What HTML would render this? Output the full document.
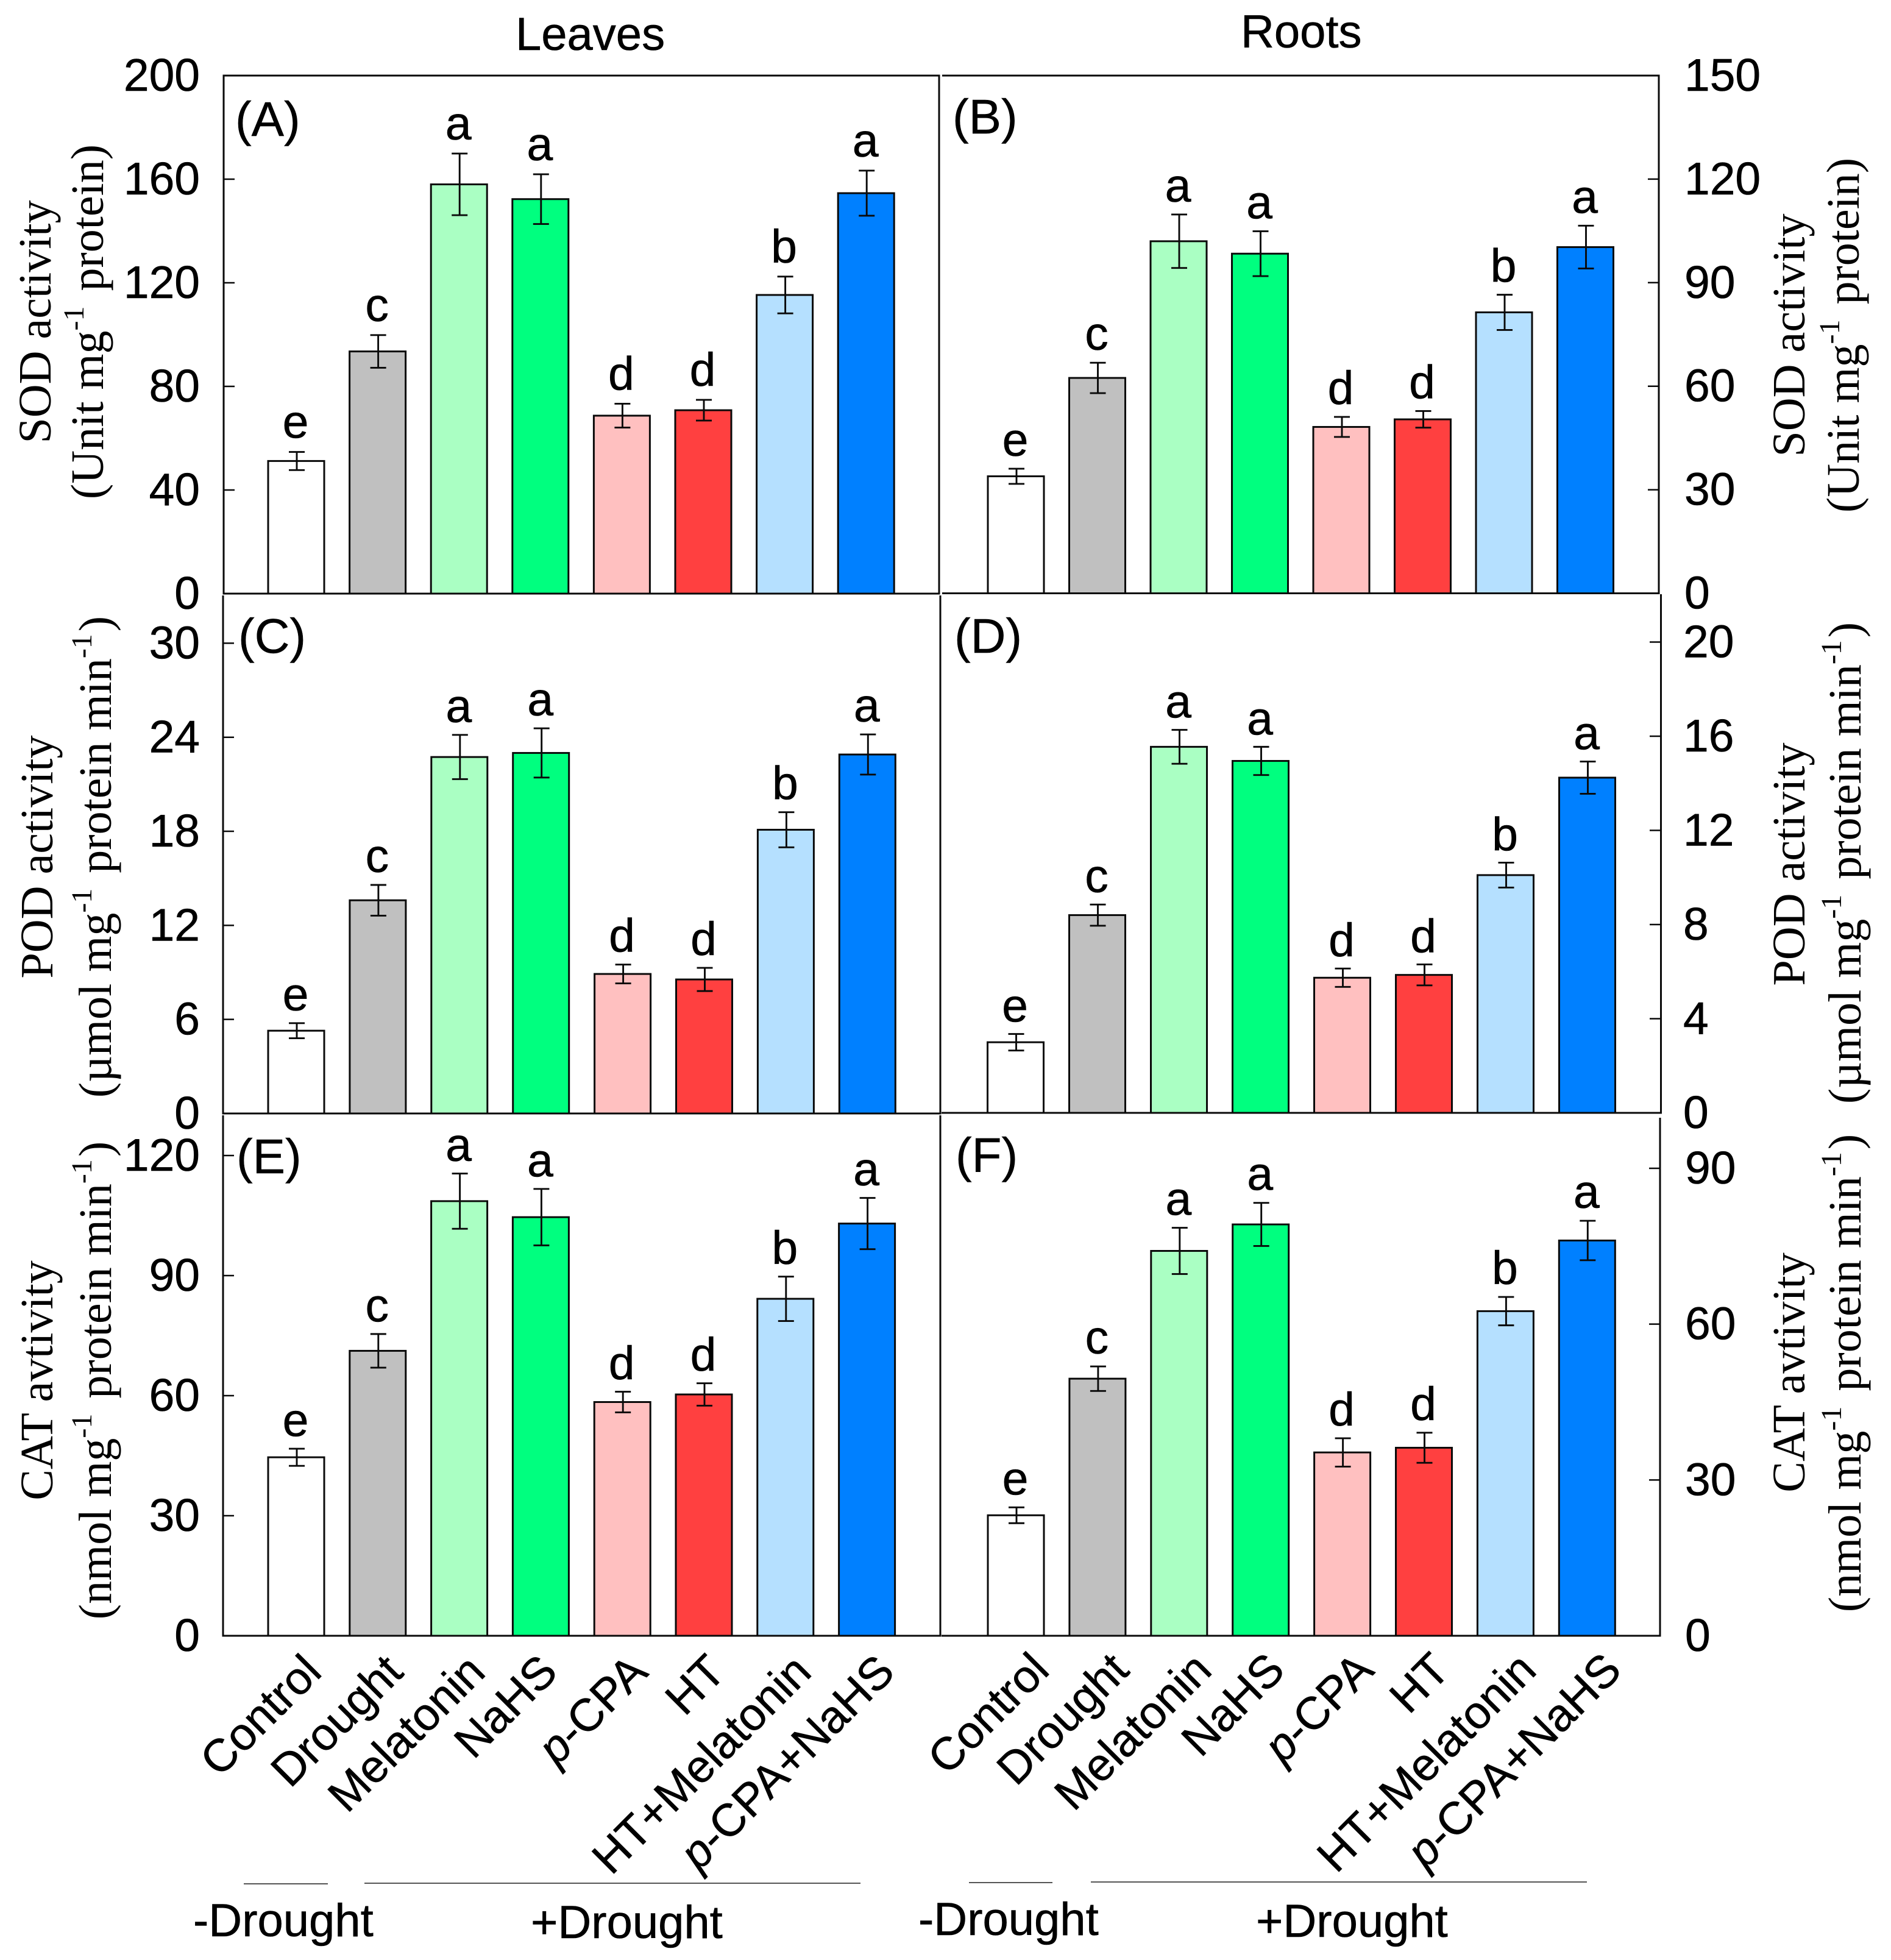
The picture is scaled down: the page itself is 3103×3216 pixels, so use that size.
<!DOCTYPE html>
<html lang="en">
<head>
<meta charset="utf-8">
<title>Antioxidant enzyme activity in leaves and roots</title>
<style>
html,body{margin:0;padding:0;background:#fff;}
svg{display:block;}
text{fill:#000;}
.sans{font-family:"Liberation Sans",sans-serif;font-size:75px;stroke:#000;stroke-width:.6px;}
.letter{font-size:77px;}
.xl{font-size:75px;}
.serif{font-family:"Liberation Serif",serif;font-size:76px;}
.sup{font-size:48px;}
.plabel{font-family:"Liberation Sans",sans-serif;font-size:80px;stroke:#000;stroke-width:.5px;}
</style>
</head>
<body>
<svg id="figure" xmlns="http://www.w3.org/2000/svg" width="3103" height="3216" viewBox="0 0 3103 3216">
  <rect x="0" y="0" width="3103" height="3216" fill="#fff"/>

  <text class="sans" x="846" y="82" style="font-size:76px">Leaves</text>
  <text class="sans" x="2036" y="78" style="font-size:76px">Roots</text>

  <g id="marks"></g>

  <text class="plabel" x="386" y="223">(A)</text>
  <text class="plabel" x="1563" y="219">(B)</text>
  <text class="plabel" x="391" y="1071">(C)</text>
  <text class="plabel" x="1566" y="1071">(D)</text>
  <text class="plabel" x="388" y="1925">(E)</text>
  <text class="plabel" x="1568" y="1923">(F)</text>

  <!-- y-axis titles -->
  <g>
    <text class="serif" text-anchor="middle" transform="translate(83,528) rotate(-90)">SOD activity</text>
    <text class="serif" text-anchor="middle" transform="translate(169,528) rotate(-90)">(Unit mg<tspan class="sup" dy="-32">-1</tspan><tspan dy="32" dx="6">&#160;protein)</tspan></text>
  </g>
  <g>
    <text class="serif" text-anchor="middle" transform="translate(2961,550) rotate(-90)">SOD activity</text>
    <text class="serif" text-anchor="middle" transform="translate(3050,550) rotate(-90)">(Unit mg<tspan class="sup" dy="-32">-1</tspan><tspan dy="32" dx="6">&#160;protein)</tspan></text>
  </g>
  <g>
    <text class="serif" text-anchor="middle" transform="translate(86,1406) rotate(-90)">POD activity</text>
    <text class="serif" text-anchor="middle" transform="translate(182,1406) rotate(-90)">(µmol mg<tspan class="sup" dy="-32">-1</tspan><tspan dy="32" dx="6">&#160;protein min</tspan><tspan class="sup" dy="-32">-1</tspan><tspan dy="32" dx="4">)</tspan></text>
  </g>
  <g>
    <text class="serif" text-anchor="middle" transform="translate(2961,1418) rotate(-90)">POD activity</text>
    <text class="serif" text-anchor="middle" transform="translate(3053,1416) rotate(-90)">(µmol mg<tspan class="sup" dy="-32">-1</tspan><tspan dy="32" dx="6">&#160;protein min</tspan><tspan class="sup" dy="-32">-1</tspan><tspan dy="32" dx="4">)</tspan></text>
  </g>
  <g>
    <text class="serif" text-anchor="middle" transform="translate(86,2265) rotate(-90)">CAT avtivity</text>
    <text class="serif" text-anchor="middle" transform="translate(182,2265) rotate(-90)">(nmol mg<tspan class="sup" dy="-32">-1</tspan><tspan dy="32" dx="6">&#160;protein min</tspan><tspan class="sup" dy="-32">-1</tspan><tspan dy="32" dx="4">)</tspan></text>
  </g>
  <g>
    <text class="serif" text-anchor="middle" transform="translate(2961,2252) rotate(-90)">CAT avtivity</text>
    <text class="serif" text-anchor="middle" transform="translate(3053,2253) rotate(-90)">(nmol mg<tspan class="sup" dy="-32">-1</tspan><tspan dy="32" dx="6">&#160;protein min</tspan><tspan class="sup" dy="-32">-1</tspan><tspan dy="32" dx="4">)</tspan></text>
  </g>

  <!-- treatment group brackets -->
  <line x1="400" y1="3091" x2="538" y2="3091" stroke="#555" stroke-width="2"/>
  <line x1="598" y1="3090" x2="1412" y2="3090" stroke="#555" stroke-width="2"/>
  <line x1="1590" y1="3089" x2="1727" y2="3089" stroke="#555" stroke-width="2"/>
  <line x1="1790" y1="3088" x2="2604" y2="3088" stroke="#555" stroke-width="2"/>
  <text class="sans" x="317" y="3177" style="font-size:76px">-Drought</text>
  <text class="sans" x="871" y="3180" style="font-size:76px">+Drought</text>
  <text class="sans" x="1507" y="3175" style="font-size:76px">-Drought</text>
  <text class="sans" x="2061" y="3178" style="font-size:76px">+Drought</text>
</svg>

<script>
// ---- data ----
const categories = ["Control", "Drought", "Melatonin", "NaHS", "p-CPA", "HT", "HT+Melatonin", "p-CPA+NaHS"];
const sigLetters = ["e", "c", "a", "a", "d", "d", "b", "a"];

const sodLeaves    = [51.2, 93.5, 158.0, 152.3, 68.7, 70.8, 115.3, 154.6];
const sodLeavesErr = [3.5, 6.3, 11.9, 9.6, 4.6, 4.0, 7.1, 8.7];
const sodRoots     = [33.9, 62.4, 102.0, 98.4, 48.2, 50.4, 81.4, 100.3];
const sodRootsErr  = [2.2, 4.4, 7.75, 6.5, 2.9, 2.4, 5.1, 6.2];

const podLeaves    = [5.28, 13.6, 22.74, 23.0, 8.9, 8.55, 18.1, 22.9];
const podLeavesErr = [0.48, 0.98, 1.41, 1.57, 0.6, 0.74, 1.12, 1.28];
const podRoots     = [3.0, 8.4, 15.55, 14.95, 5.74, 5.86, 10.1, 14.24];
const podRootsErr  = [0.35, 0.45, 0.72, 0.6, 0.39, 0.445, 0.53, 0.685];

const catLeaves    = [44.6, 71.2, 108.6, 104.6, 58.4, 60.3, 84.2, 103.0];
const catLeavesErr = [2.14, 4.2, 6.9, 7.05, 2.58, 2.8, 5.55, 6.4];
const catRoots     = [23.2, 49.5, 74.1, 79.2, 35.3, 36.2, 62.5, 76.1];
const catRootsErr  = [1.52, 2.36, 4.45, 4.15, 2.73, 2.9, 2.73, 3.8];

const ticksA = [0, 40, 80, 120, 160, 200];
const ticksB = [0, 30, 60, 90, 120, 150];
const ticksC = [0, 6, 12, 18, 24, 30];
const ticksD = [0, 4, 8, 12, 16, 20];
const ticksE = [0, 30, 60, 90, 120];
const ticksF = [0, 30, 60, 90];

// ---- styling / layout ----
const FILLS = ["#FFFFFF", "#C0C0C0", "#AAFFC3", "#00FF7F", "#FFC0C0", "#FF4040", "#B5E0FF", "#0080FF"];
const BAR_W = 92;
const CAP = 13;
const INK = "#0a0a0a";
const NS = "http://www.w3.org/2000/svg";
const root = document.getElementById("marks");

const panels = [
  {k:"a", v:sodLeaves, e:sodLeavesErr, t:ticksA, cx:486,  step:133.6, y0:974,  yTop:124,  vTop:200, left:true,  axX:367,  axR:1541, gap:23, lo:367,  top:124},
  {k:"b", v:sodRoots,  e:sodRootsErr,  t:ticksB, cx:1667, step:133.5, y0:973.5,yTop:124,  vTop:150, left:false, axX:2722, axR:1546, gap:21, lo:1546, top:124},
  {k:"c", v:podLeaves, e:podLeavesErr, t:ticksC, cx:486,  step:133.9, y0:1827, yTop:1055.4,vTop:30, left:true,  axX:366,  axR:1543, gap:21, lo:366,  top:977},
  {k:"d", v:podRoots,  e:podRootsErr,  t:ticksD, cx:1666.5,step:134,  y0:1826, yTop:1053.5,vTop:20, left:false, axX:2725, axR:1545, gap:20, lo:1545, top:975},
  {k:"e", v:catLeaves, e:catLeavesErr, t:ticksE, cx:486,  step:133.8, y0:2684, yTop:1896, vTop:120, left:true,  axX:366,  axR:1543, gap:20.5, lo:366, top:1830},
  {k:"f", v:catRoots,  e:catRootsErr,  t:ticksF, cx:1667, step:133.9, y0:2684, yTop:1917, vTop:90,  left:false, axX:2724, axR:1545, gap:21, lo:1545, top:1834}
];

const tickLabelX = {a:328, c:328, e:328, b:2764, d:2762, f:2765};
const xLabelDx = {leaves:[45,45,46,31,45,39,46,49], roots:[58,55,57,43,55,46,54,60]};
const xLabelY = {leaves:2747, roots:2744};

function yScale(p, val){ return p.y0 - (val / p.vTop) * (p.y0 - p.yTop); }
function xScale(p, i){ return p.cx + i * p.step; }

function mk(tag, attrs, parent){
  const el = document.createElementNS(NS, tag);
  for (const a in attrs) el.setAttribute(a, attrs[a]);
  (parent || root).appendChild(el);
  return el;
}

panels.forEach(function(p){
  const g = mk("g", {});
  
  

  // bars
  p.v.forEach(function(val, i){
    const x = xScale(p, i), y = yScale(p, val);
    const bar = mk("rect", {x:x - BAR_W/2, y:y, width:BAR_W, height:p.y0 - y, fill:FILLS[i], stroke:INK, "stroke-width":3}, g);
    
    

    // error bar
    const hi = yScale(p, val + p.e[i]), lo = yScale(p, val - p.e[i]);
    const eg = mk("g", {stroke:INK, "stroke-width":2.9}, g);
    
    
    mk("line", {x1:x + 1, x2:x + 1, y1:hi, y2:lo}, eg);
    mk("line", {x1:x + 1 - CAP, x2:x + 1 + CAP, y1:hi, y2:hi}, eg);
    mk("line", {x1:x + 1 - CAP, x2:x + 1 + CAP, y1:lo, y2:lo}, eg);

    // significance letter
    const t = mk("text", {x:x - 1, y:hi - p.gap, "text-anchor":"middle", "class":"sans letter"}, g);
    t.textContent = sigLetters[i];
    
    
  });

  // y axis ticks and labels
  p.t.forEach(function(val){
    const y = yScale(p, val);
    if (val !== 0) {
      const x2 = p.left ? p.axX + 18 : p.axX - 18;
      const tick = mk("line", {x1:p.axX, x2:x2, y1:y, y2:y, stroke:INK, "stroke-width":2.5}, g);
      
      
    }
    const lab = mk("text", {x:tickLabelX[p.k], y:y + 25, "class":"sans", "text-anchor":p.left ? "end" : "start"}, g);
    lab.textContent = String(val);
    
    
  });
});

// frames
const frames = [
  "M367 124H1541V974H367Z",
  "M1546 124H2722V973.5H1546",
  "M366 977V1827H1543V977",
  "M1545 1826H2725.5V975",
  "M366 1830V2684H1543V1830",
  "M1545 2684H2724V1834"
];
frames.forEach(function(d, i){
  const f = mk("path", {d:d, fill:"none", stroke:INK, "stroke-width":3});
  
  
});

// x tick labels
function xLabels(p, side){
  categories.forEach(function(c, i){
    const ax = xScale(p, i) + xLabelDx[side][i], ay = xLabelY[side];
    const t = mk("text", {"class":"sans xl", "text-anchor":"end", transform:"translate(" + ax + "," + ay + ") rotate(-45)"});
    
    
    if (c.indexOf("p-") === 0) {
      const it = mk("tspan", {"font-style":"italic"}, t);
      it.textContent = "p";
      const rest = mk("tspan", {}, t);
      rest.textContent = c.slice(1);
    } else {
      t.textContent = c;
    }
  });
}
xLabels(panels[4], "leaves");
xLabels(panels[5], "roots");
</script>
</body>
</html>
